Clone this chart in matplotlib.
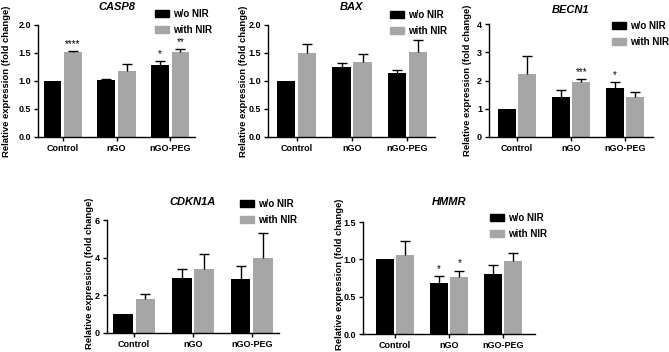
import numpy as np
import matplotlib
matplotlib.use("Agg")
from matplotlib import pyplot as plt
from matplotlib.patches import Patch

plt.rcParams['font.family'] = ['Liberation Sans', 'DejaVu Sans']

groups = ['Control', 'nGO', 'nGO-PEG']
series = ['w/o NIR', 'with NIR']
colors = ['#000000', '#a6a6a6']

# mean and upper error per gene, rows = series
casp8 = [[1.00, 1.01, 1.28], [1.51, 1.18, 1.52]]
casp8_err = [[0.00, 0.02, 0.08], [0.02, 0.13, 0.05]]
bax = [[1.00, 1.25, 1.14], [1.50, 1.34, 1.52]]
bax_err = [[0.00, 0.08, 0.06], [0.16, 0.14, 0.21]]
becn1 = [[1.00, 1.40, 1.73], [2.22, 1.94, 1.40]]
becn1_err = [[0.00, 0.28, 0.20], [0.64, 0.10, 0.19]]
cdkn1a = [[1.00, 2.91, 2.86], [1.82, 3.40, 3.97]]
cdkn1a_err = [[0.00, 0.49, 0.72], [0.26, 0.80, 1.32]]
hmmr = [[1.00, 0.68, 0.80], [1.06, 0.77, 0.98]]
hmmr_err = [[0.00, 0.10, 0.12], [0.18, 0.08, 0.10]]

# (group, series, label)
casp8_stars = [(0, 1, '****'), (2, 0, '*'), (2, 1, '**')]
becn1_stars = [(1, 1, '***'), (2, 0, '*')]
hmmr_stars = [(1, 0, '*'), (1, 1, '*')]

W, H = 669, 352
fig = plt.figure(figsize=(W / 100, H / 100), dpi=100)

# title, values, errors, stars, yticks, ytick fmt,
# spine px (left, right, top, bottom), xlim, ylabel offset px, ylabel y, title offset px, legend px
panels = [
    ('CASP8', casp8, casp8_err, casp8_stars, [0, 0.5, 1.0, 1.5, 2.0], '%.1f',
     (38, 195, 25, 137), (-0.46, 2.46), 31, 0.5, 18, (155, 9)),
    ('BAX', bax, bax_err, [], [0, 0.5, 1.0, 1.5, 2.0], '%.1f',
     (268, 435, 25, 137), (-0.52, 2.5), 25, 0.5, 18, (390, 10)),
    ('BECN1', becn1, becn1_err, becn1_stars, [0, 1, 2, 3, 4], '%d',
     (489, 653, 24, 137), (-0.52, 2.52), 21, 0.5, 14, (612, 21)),
    ('CDKN1A', cdkn1a, cdkn1a_err, [], [0, 2, 4, 6], '%d',
     (107, 279, 220, 333), (-0.46, 2.46), 18, 0.53, 18, (240, 199)),
    ('HMMR', hmmr, hmmr_err, hmmr_stars, [0, 0.5, 1.0, 1.5], '%.1f',
     (363, 535, 222, 334), (-0.59, 2.59), 24, 0.53, 20, (490, 213)),
]

x = np.arange(len(groups))
bw = 0.33
off = 0.19

for (title, vals, errs, stars, yt, fmt, px, xl, ylo, yly, tto, lg) in panels:
    l, r, t, b = px
    ax = fig.add_axes([l / W, 1 - b / H, (r - l) / W, (b - t) / H])
    for i in range(2):
        xs = x + (i * 2 - 1) * off
        v = np.array(vals[i])
        e = np.array(errs[i])
        ax.bar(xs, v, bw, color=colors[i], zorder=2)
        m = e > 0
        ax.vlines(xs[m], v[m], v[m] + e[m], color='black', lw=1, zorder=3)
        ax.plot(xs[m], v[m] + e[m], ls='none', marker='_', ms=7, mew=1,
                color='black', zorder=3)
    for g, s, lab in stars:
        xs = g + (s * 2 - 1) * off
        top = vals[s][g] + errs[s][g]
        ax.annotate(lab, (xs, top), xytext=(0, 1.5), textcoords='offset points',
                    ha='center', va='bottom', fontsize=7)
    ax.set_xlim(*xl)
    ax.set_ylim(yt[0], yt[-1])
    ax.set_xticks(x)
    ax.set_xticklabels(groups, fontsize=6.5, fontweight='bold')
    ax.set_yticks(yt)
    ax.set_yticklabels([fmt % v for v in yt], fontsize=6.5, fontweight='bold')
    ax.tick_params(length=3, width=1, pad=2, colors='black')
    for sp in ['top', 'right']:
        ax.spines[sp].set_visible(False)
    for sp in ['left', 'bottom']:
        ax.spines[sp].set_linewidth(1)
    ax.set_ylabel('Relative expression (fold change)', fontsize=6.8, fontweight='bold')
    ax.yaxis.set_label_coords(-ylo / (r - l), yly)
    ax.yaxis.label.set_verticalalignment('center')
    ax.text(0.5, 1 + tto / (b - t), title, transform=ax.transAxes, ha='center',
            va='center', fontsize=8, fontweight='bold', style='italic')
    handles = [Patch(color=colors[i]) for i in range(2)]
    fig.legend(handles, series, loc='upper left',
               bbox_to_anchor=(lg[0] / W, 1 - lg[1] / H), frameon=False,
               borderpad=0, borderaxespad=0, handlelength=1.4, handleheight=0.7,
               handletextpad=0.5, labelspacing=0.6,
               prop={'size': 7, 'weight': 'bold'})

fig.savefig('out.png', dpi=100)
